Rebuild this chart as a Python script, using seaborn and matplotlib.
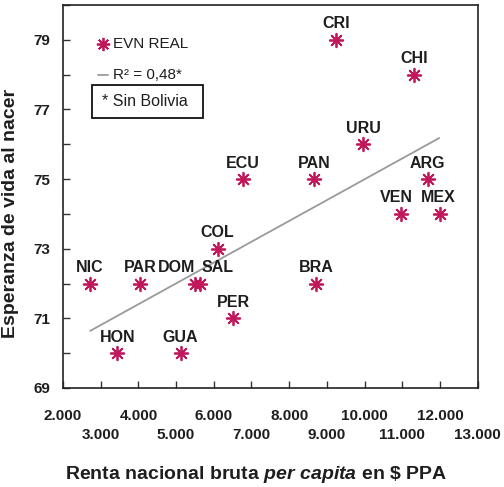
import matplotlib
matplotlib.use("Agg")
import matplotlib.pyplot as plt
import seaborn as sns
import pandas as pd

# ---- data ----
countries = ["CRI", "CHI", "URU", "ECU", "PAN", "ARG", "VEN", "MEX", "COL",
             "NIC", "PAR", "DOM", "SAL", "BRA", "PER", "HON", "GUA"]
gni = [9240, 11310, 9970, 6780, 8670, 11670, 10960, 12000, 6120,
       2720, 4040, 5500, 5630, 8710, 6520, 3440, 5120]
life = [79, 78, 76, 75, 75, 75, 74, 74, 73,
        72, 72, 72, 72, 72, 71, 70, 70]
trend_x = [2720, 11980]
trend_y = [70.64, 76.18]
x_ticks_upper = [2000, 4000, 6000, 8000, 10000, 12000]
x_labels_upper = ["2.000", "4.000", "6.000", "8.000", "10.000", "12.000"]
x_ticks_lower = [3000, 5000, 7000, 9000, 11000, 13000]
x_labels_lower = ["3.000", "5.000", "7.000", "9.000", "11.000", "13.000"]
y_ticks = [69, 70, 71, 72, 73, 74, 75, 76, 77, 78, 79, 80]
y_tick_labels = ["69", "", "71", "", "73", "", "75", "", "77", "", "79", ""]
legend_marker = "EVN REAL"
legend_line = "R² = 0,48*"
note = "* Sin Bolivia"

# ---- style ----
label_dx = {"DOM": -13, "SAL": 13, "VEN": -3.4, "MEX": -1.5, "COL": -1}
point_color = "#C0185A"
trend_color = "#9a9a9a"
text_color = "#1e1e1e"
asterisk = (8, 2, 0)

sns.set_theme(style="white")
plt.rcParams["font.family"] = ["Liberation Sans", "DejaVu Sans"]
plt.rcParams["mathtext.fontset"] = "custom"
plt.rcParams["mathtext.rm"] = "Liberation Sans:bold"
plt.rcParams["mathtext.bfit"] = "Liberation Sans:italic:bold"
plt.rcParams["mathtext.it"] = "Liberation Sans:italic:bold"

fig = plt.figure(figsize=(5.04, 4.87), dpi=100)
ax = fig.add_axes([0.125, 0.2033, 0.8228, 0.7864])

df = pd.DataFrame({"country": countries, "gni": gni, "life": life})

sns.lineplot(x=trend_x, y=trend_y, ax=ax, color=trend_color, linewidth=1.3)
sns.scatterplot(data=df, x="gni", y="life", ax=ax, marker=asterisk, s=95,
                color=point_color, edgecolor=point_color, linewidth=1.3, zorder=3)

for c, xv, yv in zip(countries, gni, life):
    ax.annotate(c, (xv, yv), xytext=(label_dx.get(c, 0), 8.3),
                textcoords="offset points", ha="center", va="baseline",
                fontsize=11.5, fontweight="bold", color=text_color)

ax.set_xlim(2000, 13000)
ax.set_ylim(69, 80)
ax.set_xticks(x_ticks_upper)
ax.set_xticklabels(x_labels_upper, fontsize=11, fontweight="bold", color=text_color)
ax.set_xticks(x_ticks_lower, minor=True)
ax.set_xticklabels(x_labels_lower, minor=True, fontsize=11, fontweight="bold",
                   color=text_color)
ax.set_yticks(y_ticks)
ax.set_yticklabels(y_tick_labels, fontsize=11, fontweight="bold", color=text_color)
ax.tick_params(axis="x", which="major", direction="in", length=5, width=1,
               color="#333333", pad=15, bottom=True)
ax.tick_params(axis="x", which="minor", direction="in", length=5, width=1,
               color="#333333", pad=28.5, bottom=True)
ax.tick_params(axis="y", direction="in", length=5, width=1, color="#333333",
               pad=9, left=True)
for s in ax.spines.values():
    s.set_visible(True)
    s.set_color("#222222")
    s.set_linewidth(1.2)

ax.set_xlabel("Renta nacional bruta $\\mathit{per\\ capita}$ en \\$ PPA",
              fontsize=14, fontweight="bold", color=text_color)
ax.xaxis.set_label_coords(0.465, -0.199)
ax.set_ylabel("Esperanza de vida al nacer", fontsize=14, fontweight="bold",
              color=text_color)
ax.yaxis.set_label_coords(-0.105, 0.4556)

# legend drawn manually
ax.plot([0.0965], [0.898], transform=ax.transAxes, marker=asterisk, markersize=9.5,
        color=point_color, markeredgewidth=1.3, linestyle="none")
ax.text(0.1206, 0.898, legend_marker, transform=ax.transAxes, fontsize=11,
        va="center", ha="left", color=text_color)
ax.plot([0.0844, 0.1085], [0.817, 0.817], transform=ax.transAxes,
        color=trend_color, linewidth=1.3)
ax.text(0.1206, 0.817, legend_line, transform=ax.transAxes, fontsize=11,
        va="center", ha="left", color=text_color)
box = plt.Rectangle((0.0699, 0.705), 0.2677, 0.086, transform=ax.transAxes,
                    fill=False, edgecolor="#111111", linewidth=1.3)
ax.add_patch(box)
ax.text(0.094, 0.747, note, transform=ax.transAxes, fontsize=11.5,
        va="center", ha="left", color=text_color)

fig.savefig("out.png", dpi=100)
